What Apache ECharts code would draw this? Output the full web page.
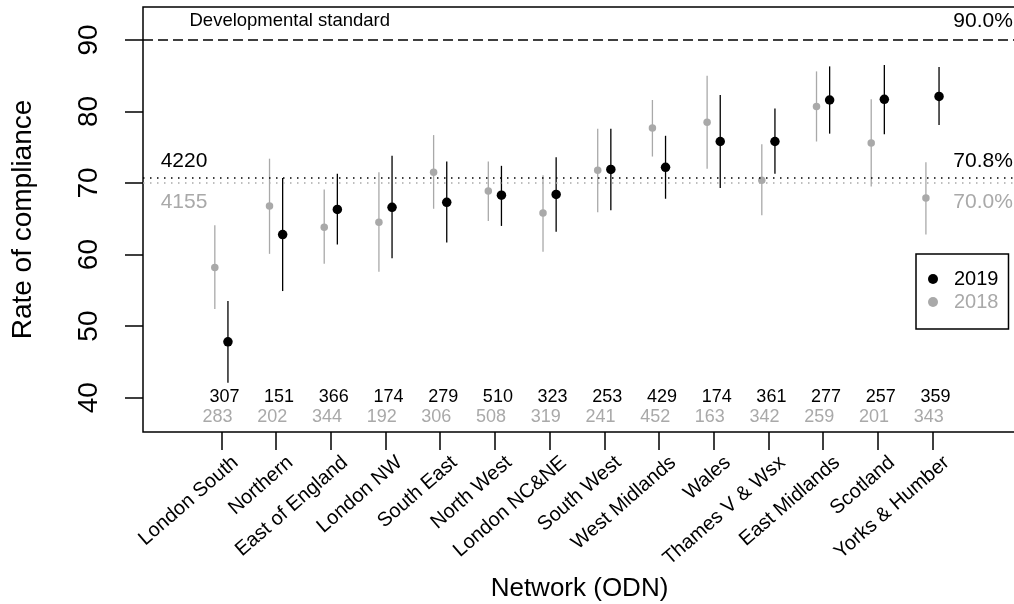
<!DOCTYPE html>
<html>
<head>
<meta charset="utf-8">
<script src="https://cdn.jsdelivr.net/npm/echarts@6/dist/echarts.min.js"></script>
<style>
  html, body { margin: 0; padding: 0; background: #fff; }
  #chart { width: 1014px; height: 604px; }
</style>
</head>
<body>
<div id="chart"></div>
<script>
// networks, ordered by 2019 rate
const categories = ['London South', 'Northern', 'East of England', 'London NW', 'South East',
  'North West', 'London NC&NE', 'South West', 'West Midlands', 'Wales', 'Thames V & Wsx',
  'East Midlands', 'Scotland', 'Yorks & Humber'];

const rate2019 = [47.8, 62.8, 66.3, 66.6, 67.3, 68.3, 68.4, 71.9, 72.2, 75.8, 75.8, 81.6, 81.7, 82.1];
const lo2019 = [42.1, 54.9, 61.4, 59.5, 61.7, 64.0, 63.2, 66.2, 67.8, 69.3, 71.3, 76.9, 76.8, 78.1];
const hi2019 = [53.5, 70.7, 71.3, 73.8, 73.0, 72.4, 73.6, 77.6, 76.6, 82.3, 80.4, 86.3, 86.5, 86.2];

const rate2018 = [58.2, 66.8, 63.8, 64.5, 71.5, 68.9, 65.8, 71.8, 77.7, 78.5, 70.4, 80.7, 75.6, 67.9];
const lo2018 = [52.4, 60.1, 58.7, 57.6, 66.4, 64.7, 60.4, 65.9, 73.7, 72.0, 65.5, 75.8, 69.5, 62.8];
const hi2018 = [64.1, 73.4, 69.1, 71.5, 76.7, 73.0, 71.1, 77.6, 81.6, 85.0, 75.4, 85.6, 81.7, 72.9];

const n2019 = [307, 151, 366, 174, 279, 510, 323, 253, 429, 174, 361, 277, 257, 359];
const n2018 = [283, 202, 344, 192, 306, 508, 319, 241, 452, 163, 342, 259, 201, 343];

const yTicks = [40, 50, 60, 70, 80, 90];
const standard = 90;
const overall2019 = 70.8, total2019 = 4220;
const overall2018 = 70.0, total2018 = 4155;

const BLACK = '#000000';
const GREY = '#a9a9a9';
const FONT = '"Liberation Sans", Arial, Helvetica, sans-serif';
const DODGE = 0.12;      // side-by-side shift of the two years
const LABEL_SHIFT = 0.26; // rotated tick labels sit right of their tick

const xPos = categories.map((c, i) => i + 1);

function errorBar(color, width) {
    return function (params, api) {
        let x = api.value(0);
        let p1 = api.coord([x, api.value(1)]);
        let p2 = api.coord([x, api.value(2)]);
        return {
            type: 'line',
            shape: {x1: p1[0], y1: p1[1], x2: p2[0], y2: p2[1]},
            style: {stroke: color, lineWidth: width}
        };
    };
}

function textSeries(items) {
    return {
        type: 'scatter',
        symbolSize: 0,
        silent: true,
        z: 5,
        itemStyle: {opacity: 1},
        data: items.map(t => ({
            value: [t.x, t.y],
            label: {
                show: true,
                position: t.pos,
                distance: 0,
                formatter: t.text,
                color: t.color,
                opacity: 1,
                fontSize: t.size,
                fontFamily: FONT
            }
        }))
    };
}

const chart = echarts.init(document.getElementById('chart'), null, {renderer: 'canvas'});

const option = {
    animation: false,
    backgroundColor: '#fff',
    textStyle: {fontFamily: FONT},
    grid: {
        left: 143, top: 7, width: 873, height: 425,
        outerBoundsMode: 'none',
        containLabel: false,
        show: true, borderColor: BLACK, borderWidth: 1.5, backgroundColor: 'transparent'
    },
    legend: {
        left: 916, top: 254,
        orient: 'vertical',
        icon: 'circle',
        itemWidth: 10, itemHeight: 10, itemGap: 3,
        padding: [15, 10, 17, 12],
        borderColor: BLACK, borderWidth: 1.5,
        itemStyle: {opacity: 1},
        textStyle: {fontSize: 20, lineHeight: 20, fontFamily: FONT, padding: [0, 0, 0, 11]},
        data: [
            {name: '2019', textStyle: {color: BLACK}},
            {name: '2018', textStyle: {color: GREY}}
        ]
    },
    xAxis: {
        type: 'value',
        min: -0.433, max: 15.527,
        name: 'Network (ODN)',
        nameLocation: 'middle',
        nameGap: 131,
        nameTextStyle: {fontSize: 26, color: BLACK, fontFamily: FONT},
        axisLine: {show: false, onZero: false},
        splitLine: {show: false},
        axisTick: {show: true, inside: false, length: 18, customValues: xPos,
            lineStyle: {color: BLACK, width: 1.5}},
        axisLabel: {
            show: true, rotate: 41, margin: 28,
            customValues: xPos.map(v => v + LABEL_SHIFT),
            formatter: v => categories[Math.round(v - LABEL_SHIFT) - 1] || '',
            fontSize: 20, color: BLACK, fontFamily: FONT
        }
    },
    yAxis: {
        type: 'value',
        min: 35.2, max: 94.6,
        name: 'Rate of compliance',
        nameLocation: 'middle',
        nameRotate: 90,
        nameGap: 106,
        nameTextStyle: {fontSize: 28, color: BLACK, fontFamily: FONT},
        axisLine: {show: false, onZero: false},
        splitLine: {show: false},
        axisTick: {show: true, inside: false, length: 18, customValues: yTicks,
            lineStyle: {color: BLACK, width: 1.5}},
        axisLabel: {
            show: true, rotate: 90, margin: 40,
            customValues: yTicks,
            fontSize: 28, color: BLACK, fontFamily: FONT
        }
    },
    series: [
        {
            // reference lines
            type: 'line',
            data: [],
            silent: true,
            markLine: {
                silent: true,
                symbol: ['none', 'none'],
                label: {show: false},
                data: [
                    {yAxis: standard, lineStyle: {color: BLACK, type: [10, 5], width: 1.5}},
                    {yAxis: overall2019, lineStyle: {color: BLACK, type: [1.5, 5.5], width: 1.5}},
                    {yAxis: overall2018, lineStyle: {color: GREY, type: [1.5, 5.5], width: 1.5}}
                ]
            }
        },
        {
            type: 'custom',
            silent: true,
            renderItem: errorBar(GREY, 1.3),
            encode: {x: 0, y: [1, 2]},
            data: xPos.map((x, i) => [x - DODGE, lo2018[i], hi2018[i]]),
            z: 2
        },
        {
            type: 'custom',
            silent: true,
            renderItem: errorBar(BLACK, 1.3),
            encode: {x: 0, y: [1, 2]},
            data: xPos.map((x, i) => [x + DODGE, lo2019[i], hi2019[i]]),
            z: 2
        },
        {
            name: '2018',
            type: 'scatter',
            symbol: 'circle',
            symbolSize: 7.5,
            itemStyle: {color: GREY, opacity: 1},
            data: xPos.map((x, i) => [x - DODGE, rate2018[i]]),
            z: 3
        },
        {
            name: '2019',
            type: 'scatter',
            symbol: 'circle',
            symbolSize: 9.5,
            itemStyle: {color: BLACK, opacity: 1},
            data: xPos.map((x, i) => [x + DODGE, rate2019[i]]),
            z: 4
        },
        // sample sizes along the bottom
        textSeries(xPos.map((x, i) => ({x: x + 0.055, y: 40.1, text: String(n2019[i]),
            pos: 'inside', color: BLACK, size: 18}))),
        textSeries(xPos.map((x, i) => ({x: x - 0.07, y: 37.3, text: String(n2018[i]),
            pos: 'inside', color: GREY, size: 18}))),
        // line annotations
        textSeries([
            {x: 2.25, y: 92.6, text: 'Developmental standard', pos: 'inside', color: BLACK, size: 18.5},
            {x: 15.47, y: 92.6, text: standard.toFixed(1) + '%', pos: 'left', color: BLACK, size: 21},
            {x: 15.47, y: 73.07, text: overall2019.toFixed(1) + '%', pos: 'left', color: BLACK, size: 21},
            {x: 15.47, y: 67.3, text: overall2018.toFixed(1) + '%', pos: 'left', color: GREY, size: 21},
            {x: -0.11, y: 73.07, text: String(total2019), pos: 'right', color: BLACK, size: 21},
            {x: -0.11, y: 67.3, text: String(total2018), pos: 'right', color: GREY, size: 21}
        ])
    ]
};

chart.setOption(option);
</script>
</body>
</html>
